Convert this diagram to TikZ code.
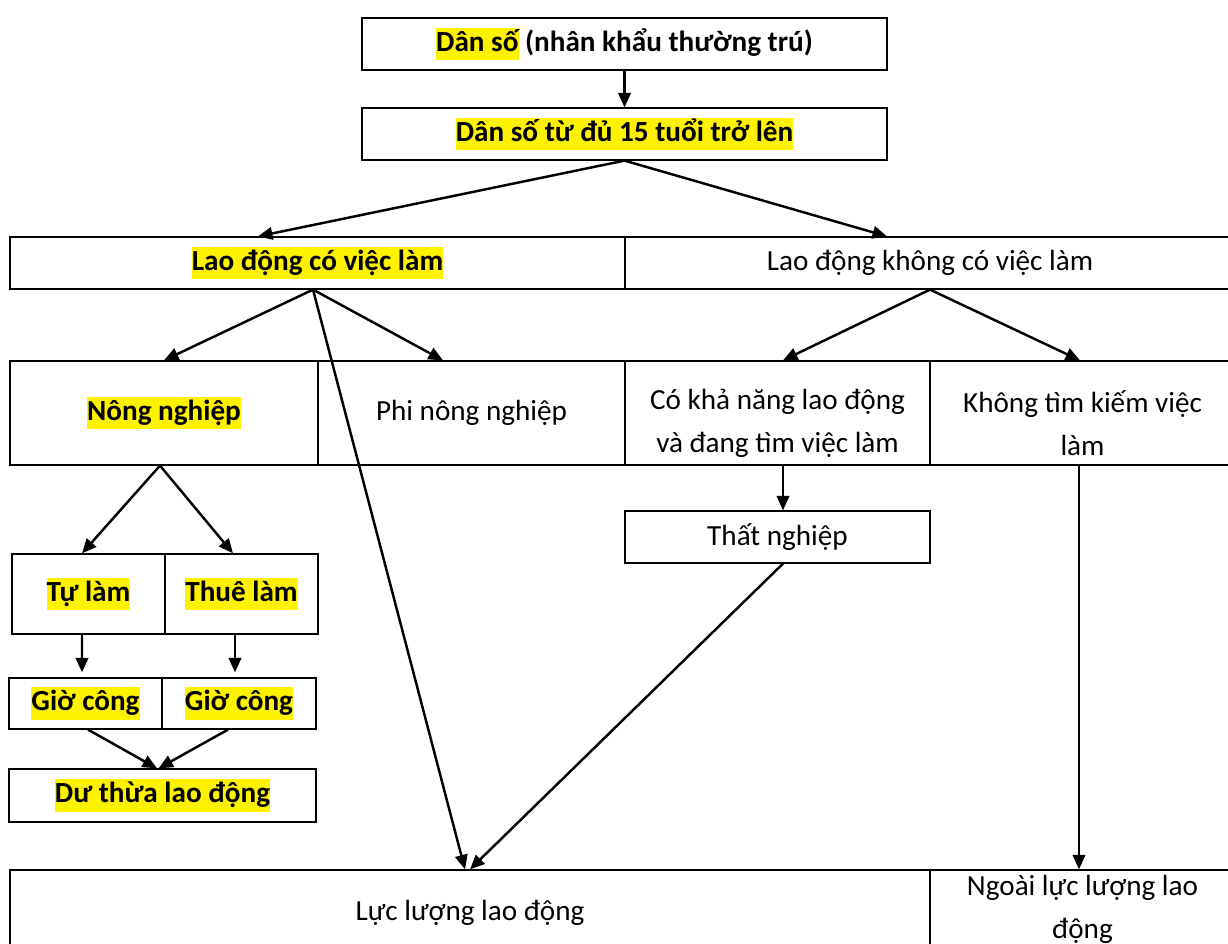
\documentclass[tikz,border=0pt]{standalone}
\usepackage{fontspec}
\setmainfont{Carlito}
\usetikzlibrary{arrows.meta}

\newcommand{\hlt}[1]{{\setlength{\fboxsep}{0pt}\colorbox{yellow}{\rule[-0.3em]{0pt}{1.1em}#1}}}

\tikzstyle{cellNode} = [rectangle, draw=black, line width=0.35pt, inner sep=0pt, text centered, align=center, font=\fontsize{8.3}{12.3}\selectfont]
\tikzstyle{boldNode} = [cellNode, font=\fontsize{8.3}{12.3}\selectfont\bfseries]
\tikzstyle{lowText} = [font=\fontsize{8.3}{12.3}\selectfont, align=center, inner sep=0pt, yshift=-1mm]
\tikzstyle{highText} = [font=\fontsize{8.3}{12.3}\selectfont, align=center, inner sep=0pt, yshift=0.4mm]
\tikzstyle{arrow} = [line width=0.7pt,-{Triangle[length=1.45mm,width=1.25mm]}]

\begin{document}
\begin{tikzpicture}[x=0.1mm, y=-0.1mm]
    \useasboundingbox (0,0) rectangle (1228,944);

    \node (pop)[boldNode, minimum width=52.5mm, minimum height=5.2mm] at (624.5,44) {\hlt{Dân số} (nhân khẩu thường trú)};
    \node (adult)[boldNode, minimum width=52.5mm, minimum height=5.2mm] at (624.5,134) {\hlt{Dân số từ đủ 15 tuổi trở lên}};

    \node (emp)[boldNode, minimum width=61.5mm, minimum height=5.2mm] at (317.5,263) {\hlt{Lao động có việc làm}};
    \node (unemp)[cellNode, minimum width=61mm, minimum height=5.2mm] at (930,263) {Lao động không có việc làm};

    \node (agri)[boldNode, minimum width=30.8mm, minimum height=10.4mm] at (164,413) {\hlt{Nông nghiệp}};
    \node (nonagri)[cellNode, minimum width=30.7mm, minimum height=10.4mm] at (471.5,413) {Phi nông nghiệp};
    \node (able)[cellNode, minimum width=30.5mm, minimum height=10.4mm, label={[lowText]center:Có khả năng lao động\\và đang tìm việc làm}] at (777.5,413) {};
    \node (notseek)[cellNode, minimum width=30.5mm, minimum height=10.4mm, label={[lowText]center:Không tìm kiếm việc\\làm}] at (1082.5,413) {};

    \node (self)[boldNode, minimum width=15.3mm, minimum height=8mm] at (88.5,594) {\hlt{Tự làm}};
    \node (hired)[boldNode, minimum width=15.3mm, minimum height=8mm] at (241.5,594) {\hlt{Thuê làm}};
    \node (hours1)[boldNode, minimum width=15.3mm, minimum height=5.1mm] at (85.5,703.5) {\hlt{Giờ công}};
    \node (hours2)[boldNode, minimum width=15.4mm, minimum height=5.1mm] at (239,703.5) {\hlt{Giờ công}};
    \node (surplus)[boldNode, minimum width=30.7mm, minimum height=5.3mm] at (162.5,795.5) {\hlt{Dư thừa lao động}};

    \node (jobless)[cellNode, minimum width=30.5mm, minimum height=5.2mm] at (777.5,537) {Thất nghiệp};

    \node (force)[cellNode, minimum width=92mm, minimum height=8.6mm] at (470,913) {Lực lượng lao động};
    \node (outside)[cellNode, minimum width=30.5mm, minimum height=8.6mm, label={[highText]center:Ngoài lực lượng lao\\động}] at (1082.5,913) {};

    \draw [arrow] (pop) -- (adult);
    \draw [arrow] (adult.south) -- ([xshift=-5.95mm]emp.north);
    \draw [arrow] (adult.south) -- ([xshift=-4.3mm]unemp.north);

    \draw [arrow] ([xshift=-0.45mm]emp.south) -- (agri.north);
    \draw [arrow] ([xshift=-0.45mm]emp.south) -- ([xshift=-2.85mm]nonagri.north);
    \draw [arrow] ([xshift=-0.45mm]emp.south) -- ([xshift=-0.5mm]force.north);
    \draw [arrow] (unemp.south) -- ([xshift=0.55mm]able.north);
    \draw [arrow] (unemp.south) -- ([xshift=-0.25mm]notseek.north);

    \draw [arrow] ([xshift=-0.4mm]agri.south) -- ([xshift=-0.65mm]self.north);
    \draw [arrow] ([xshift=-0.4mm]agri.south) -- ([xshift=-0.85mm]hired.north);
    \draw [arrow] ([xshift=-0.65mm]self.south) -- ([xshift=-0.35mm,yshift=0.5mm]hours1.north);
    \draw [arrow] ([xshift=-0.65mm]hired.south) -- ([xshift=-0.4mm,yshift=0.5mm]hours2.north);
    \draw [arrow] ([xshift=0.25mm]hours1.south) -- ([xshift=-0.55mm]surplus.north);
    \draw [arrow] ([xshift=-1.1mm]hours2.south) -- ([xshift=-0.4mm]surplus.north);

    \draw [arrow] ([xshift=0.55mm]able.south) -- ([xshift=0.55mm]jobless.north);
    \draw [arrow] ([xshift=0.55mm]jobless.south) -- (force.north);
    \draw [arrow] ([xshift=-0.35mm]notseek.south) -- ([xshift=-0.35mm]outside.north);
  \end{tikzpicture}
\end{document}
